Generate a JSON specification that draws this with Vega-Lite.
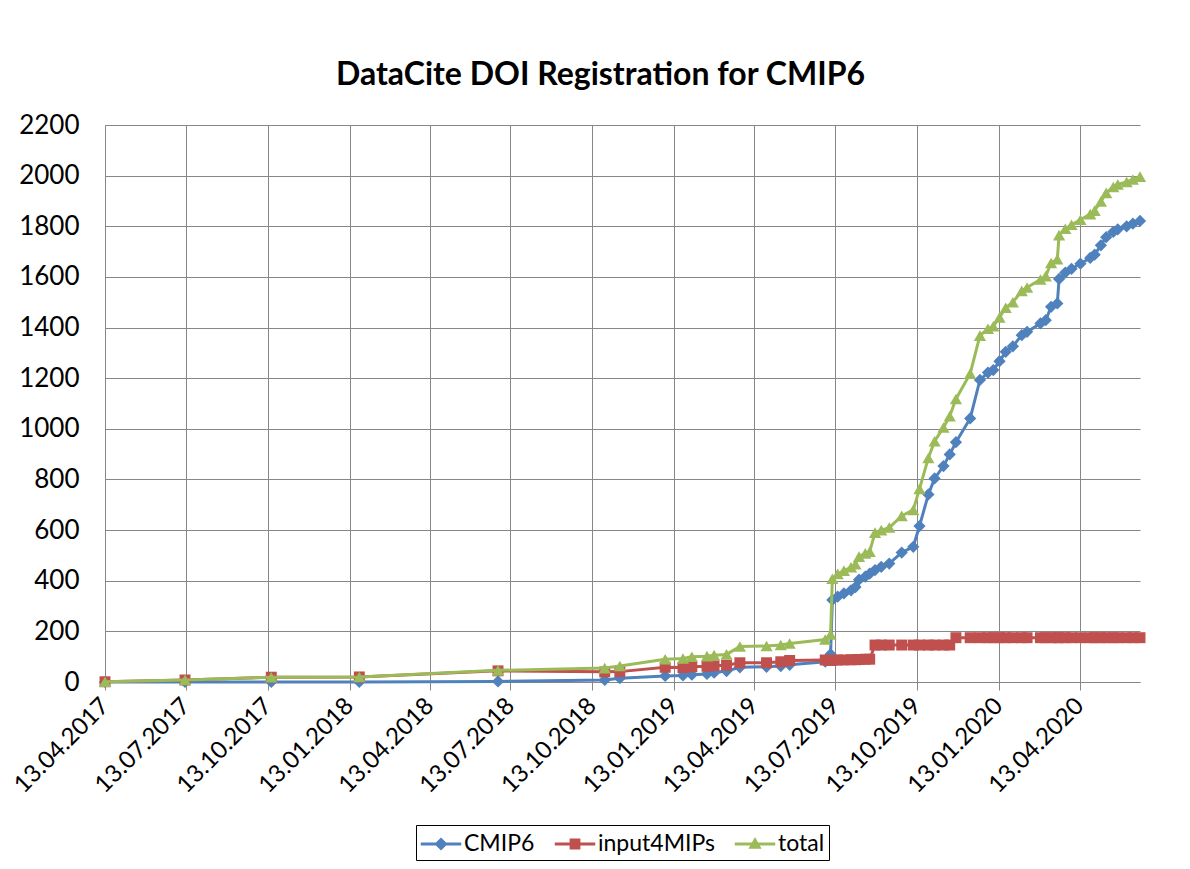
{
  "$schema": "https://vega.github.io/schema/vega-lite/v6.json",
  "width": 1035,
  "height": 557,
  "autosize": {"type": "none"},
  "padding": {"left": 105, "top": 125, "right": 50, "bottom": 187},
  "background": "white",
  "title": {"text": "DataCite DOI Registration for CMIP6", "font": "Lato", "fontSize": 32, "fontWeight": "bold", "color": "black", "anchor": "middle", "frame": "group", "dx": -22, "offset": 20},
  "data": {"values": [
    {"d": "2017-04-13", "CMIP6": 0, "input4MIPs": 1, "total": 1},
    {"d": "2017-07-12", "CMIP6": 0, "input4MIPs": 8, "total": 8},
    {"d": "2017-10-17", "CMIP6": 0, "input4MIPs": 19, "total": 19},
    {"d": "2018-01-24", "CMIP6": 0, "input4MIPs": 20, "total": 20},
    {"d": "2018-06-29", "CMIP6": 2, "input4MIPs": 44, "total": 46},
    {"d": "2018-10-27", "CMIP6": 8, "input4MIPs": 40, "total": 55},
    {"d": "2018-11-13", "CMIP6": 15, "input4MIPs": 41, "total": 63},
    {"d": "2019-01-03", "CMIP6": 24, "input4MIPs": 58, "total": 90},
    {"d": "2019-01-23", "CMIP6": 26, "input4MIPs": 57, "total": 93},
    {"d": "2019-02-02", "CMIP6": 29, "input4MIPs": 60, "total": 100},
    {"d": "2019-02-19", "CMIP6": 32, "input4MIPs": 62, "total": 102},
    {"d": "2019-02-27", "CMIP6": 37, "input4MIPs": 64, "total": 106},
    {"d": "2019-03-13", "CMIP6": 43, "input4MIPs": 66, "total": 109},
    {"d": "2019-03-28", "CMIP6": 58, "input4MIPs": 76, "total": 140},
    {"d": "2019-04-27", "CMIP6": 60, "input4MIPs": 76, "total": 142},
    {"d": "2019-05-13", "CMIP6": 63, "input4MIPs": 80, "total": 146},
    {"d": "2019-05-23", "CMIP6": 68, "input4MIPs": 85, "total": 152},
    {"d": "2019-07-02", "CMIP6": 80, "input4MIPs": 87, "total": 168},
    {"d": "2019-07-08", "CMIP6": 110, "input4MIPs": 85, "total": 188},
    {"d": "2019-07-10", "CMIP6": 324, "input4MIPs": 86, "total": 408},
    {"d": "2019-07-16", "CMIP6": 337, "input4MIPs": 87, "total": 427},
    {"d": "2019-07-23", "CMIP6": 350, "input4MIPs": 87, "total": 440},
    {"d": "2019-07-31", "CMIP6": 362, "input4MIPs": 88, "total": 453},
    {"d": "2019-08-05", "CMIP6": 375, "input4MIPs": 88, "total": 465},
    {"d": "2019-08-09", "CMIP6": 404, "input4MIPs": 89, "total": 495},
    {"d": "2019-08-16", "CMIP6": 416, "input4MIPs": 90, "total": 508},
    {"d": "2019-08-21", "CMIP6": 428, "input4MIPs": 90, "total": 515},
    {"d": "2019-08-27", "CMIP6": 442, "input4MIPs": 146, "total": 590},
    {"d": "2019-09-03", "CMIP6": 455, "input4MIPs": 146, "total": 600},
    {"d": "2019-09-12", "CMIP6": 468, "input4MIPs": 146, "total": 610},
    {"d": "2019-09-26", "CMIP6": 511, "input4MIPs": 146, "total": 656},
    {"d": "2019-10-09", "CMIP6": 534, "input4MIPs": 146, "total": 680},
    {"d": "2019-10-16", "CMIP6": 616, "input4MIPs": 146, "total": 763},
    {"d": "2019-10-26", "CMIP6": 741, "input4MIPs": 146, "total": 885},
    {"d": "2019-11-02", "CMIP6": 804, "input4MIPs": 146, "total": 951},
    {"d": "2019-11-12", "CMIP6": 853, "input4MIPs": 146, "total": 1005},
    {"d": "2019-11-19", "CMIP6": 899, "input4MIPs": 146, "total": 1050},
    {"d": "2019-11-26", "CMIP6": 947, "input4MIPs": 175, "total": 1118},
    {"d": "2019-12-12", "CMIP6": 1041, "input4MIPs": 175, "total": 1218},
    {"d": "2019-12-23", "CMIP6": 1193, "input4MIPs": 175, "total": 1368},
    {"d": "2020-01-01", "CMIP6": 1222, "input4MIPs": 175, "total": 1395},
    {"d": "2020-01-07", "CMIP6": 1232, "input4MIPs": 175, "total": 1405},
    {"d": "2020-01-14", "CMIP6": 1267, "input4MIPs": 175, "total": 1440},
    {"d": "2020-01-21", "CMIP6": 1304, "input4MIPs": 175, "total": 1478},
    {"d": "2020-01-29", "CMIP6": 1326, "input4MIPs": 175, "total": 1500},
    {"d": "2020-02-08", "CMIP6": 1370, "input4MIPs": 175, "total": 1545},
    {"d": "2020-02-14", "CMIP6": 1383, "input4MIPs": 175, "total": 1558},
    {"d": "2020-02-29", "CMIP6": 1416, "input4MIPs": 175, "total": 1590},
    {"d": "2020-03-06", "CMIP6": 1429, "input4MIPs": 175, "total": 1603},
    {"d": "2020-03-12", "CMIP6": 1482, "input4MIPs": 175, "total": 1655},
    {"d": "2020-03-19", "CMIP6": 1495, "input4MIPs": 175, "total": 1670},
    {"d": "2020-03-21", "CMIP6": 1592, "input4MIPs": 175, "total": 1765},
    {"d": "2020-03-28", "CMIP6": 1617, "input4MIPs": 175, "total": 1790},
    {"d": "2020-04-04", "CMIP6": 1632, "input4MIPs": 175, "total": 1806},
    {"d": "2020-04-14", "CMIP6": 1652, "input4MIPs": 175, "total": 1826},
    {"d": "2020-04-25", "CMIP6": 1675, "input4MIPs": 175, "total": 1848},
    {"d": "2020-04-30", "CMIP6": 1688, "input4MIPs": 175, "total": 1862},
    {"d": "2020-05-07", "CMIP6": 1725, "input4MIPs": 175, "total": 1898},
    {"d": "2020-05-13", "CMIP6": 1757, "input4MIPs": 175, "total": 1932},
    {"d": "2020-05-21", "CMIP6": 1778, "input4MIPs": 175, "total": 1955},
    {"d": "2020-05-26", "CMIP6": 1788, "input4MIPs": 175, "total": 1965},
    {"d": "2020-06-05", "CMIP6": 1800, "input4MIPs": 175, "total": 1975},
    {"d": "2020-06-12", "CMIP6": 1810, "input4MIPs": 175, "total": 1985},
    {"d": "2020-06-20", "CMIP6": 1821, "input4MIPs": 175, "total": 1996}
  ]},
  "transform": [{"fold": ["CMIP6", "input4MIPs", "total"], "as": ["series", "value"]}],
  "encoding": {
    "x": {
      "field": "d", "type": "temporal",
      "scale": {"type": "utc", "domain": [{"year": 2017, "month": 4, "date": 13, "utc": true}, {"year": 2020, "month": 6, "date": 20, "utc": true}]},
      "axis": {
        "title": null,
        "values": [
          {"year": 2017, "month": 4, "date": 13, "utc": true},
          {"year": 2017, "month": 7, "date": 13, "utc": true},
          {"year": 2017, "month": 10, "date": 13, "utc": true},
          {"year": 2018, "month": 1, "date": 13, "utc": true},
          {"year": 2018, "month": 4, "date": 13, "utc": true},
          {"year": 2018, "month": 7, "date": 13, "utc": true},
          {"year": 2018, "month": 10, "date": 13, "utc": true},
          {"year": 2019, "month": 1, "date": 13, "utc": true},
          {"year": 2019, "month": 4, "date": 13, "utc": true},
          {"year": 2019, "month": 7, "date": 13, "utc": true},
          {"year": 2019, "month": 10, "date": 13, "utc": true},
          {"year": 2020, "month": 1, "date": 13, "utc": true},
          {"year": 2020, "month": 4, "date": 13, "utc": true}
        ],
        "labelExpr": "utcFormat(datum.value, '%d.%m.%Y')",
        "labelAngle": -45,
        "labelAlign": "right",
        "labelBaseline": "middle",
        "labelOverlap": false,
        "labelBound": false,
        "labelFlush": false,
        "labelFontSize": 24,
        "tickSize": 8,
        "labelPadding": 12,
        "grid": true
      }
    },
    "y": {
      "field": "value", "type": "quantitative",
      "scale": {"domain": [0, 2200], "nice": false},
      "axis": {"title": null, "format": "d", "labelFontSize": 26, "values": [0, 200, 400, 600, 800, 1000, 1200, 1400, 1600, 1800, 2000, 2200], "grid": true, "ticks": false, "tickSize": 0, "labelPadding": 26}
    }
  },
  "layer": [
    {
      "mark": {"type": "point", "filled": true, "opacity": 0, "size": 10},
      "encoding": {
        "color": {
          "field": "series", "type": "nominal",
          "scale": {"domain": ["CMIP6", "input4MIPs", "total"], "range": ["#4F81BD", "#C0504D", "#9BBB59"]},
          "legend": {
            "title": null,
            "orient": "bottom",
            "direction": "horizontal",
            "labelFont": "Lato",
            "labelFontSize": 23,
            "labelColor": "black",
            "strokeColor": "black",
            "fillColor": "white",
            "padding": 4,
            "offset": 27,
            "symbolSize": 900,
            "symbolOpacity": 1,
            "symbolStrokeWidth": 0,
            "symbolOffset": 6,
            "labelOffset": 8,
            "columnPadding": 19
          }
        },
        "shape": {
          "field": "series", "type": "nominal",
          "scale": {"domain": ["CMIP6", "input4MIPs", "total"], "range": [
            "M-1.35,-0.1H1.35V0.1H-1.35Z M0,-0.44L0.44,0L0,0.44L-0.44,0Z",
            "M-1.35,-0.1H1.35V0.1H-1.35Z M-0.36,-0.36H0.36V0.36H-0.36Z",
            "M-1.35,-0.1H1.35V0.1H-1.35Z M0,-0.46L0.44,0.32H-0.44Z"
          ]},
          "legend": {
            "title": null,
            "orient": "bottom",
            "direction": "horizontal",
            "labelFont": "Lato",
            "labelFontSize": 23,
            "labelColor": "black",
            "strokeColor": "black",
            "fillColor": "white",
            "padding": 4,
            "offset": 27,
            "symbolSize": 900,
            "symbolOpacity": 1,
            "symbolStrokeWidth": 0,
            "symbolOffset": 6,
            "labelOffset": 8,
            "columnPadding": 19
          }
        }
      }
    },
    {
      "transform": [{"filter": {"field": "series", "equal": "CMIP6"}}],
      "mark": {"type": "line", "strokeWidth": 3, "color": "#4F81BD"}
    },
    {
      "transform": [{"filter": {"field": "series", "equal": "CMIP6"}}],
      "mark": {"type": "point", "shape": "diamond", "filled": true, "opacity": 1, "size": 150, "color": "#4F81BD"}
    },
    {
      "transform": [{"filter": {"field": "series", "equal": "input4MIPs"}}],
      "mark": {"type": "line", "strokeWidth": 3, "color": "#C0504D"}
    },
    {
      "transform": [{"filter": {"field": "series", "equal": "input4MIPs"}}],
      "mark": {"type": "point", "shape": "square", "filled": true, "opacity": 1, "size": 120, "color": "#C0504D"}
    },
    {
      "transform": [{"filter": {"field": "series", "equal": "total"}}],
      "mark": {"type": "line", "strokeWidth": 3, "color": "#9BBB59"}
    },
    {
      "transform": [{"filter": {"field": "series", "equal": "total"}}],
      "mark": {"type": "point", "shape": "triangle-up", "filled": true, "opacity": 1, "size": 150, "color": "#9BBB59"}
    }
  ],
  "config": {
    "view": {"stroke": null},
    "axis": {"labelFont": "Lato", "labelFontSize": 24, "labelColor": "black", "gridColor": "#878787", "gridWidth": 1, "domainColor": "#878787", "domainWidth": 1, "tickColor": "#878787", "tickWidth": 1},
    "legend": {"layout": {"anchor": "middle"}}
  }
}
